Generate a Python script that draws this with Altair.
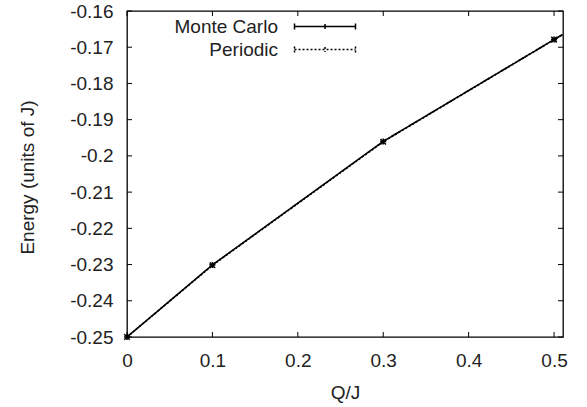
import altair as alt
import pandas as pd

# ---- data ----
series_names = ["Monte Carlo", "Periodic"]
q_mc = [0.0, 0.1, 0.3, 0.5, 0.51]
e_mc = [-0.2500, -0.2301, -0.1960, -0.1679, -0.1665]
q_per = [0.0, 0.1, 0.3, 0.5, 0.51]
e_per = [-0.2500, -0.2302, -0.1961, -0.1679, -0.1665]
x_ticks = [0.0, 0.1, 0.2, 0.3, 0.4, 0.5]
y_ticks = [-0.25, -0.24, -0.23, -0.22, -0.21, -0.20, -0.19, -0.18, -0.17, -0.16]

df = pd.concat([
    pd.DataFrame({"Q": q_mc, "E": e_mc, "series": series_names[0]}),
    pd.DataFrame({"Q": q_per, "E": e_per, "series": series_names[1]}),
], ignore_index=True)
xt = pd.DataFrame({"Q": x_ticks})
yt = pd.DataFrame({"E": y_ticks})

W, H = 436, 326
FONT = "Liberation Sans"
FS = 19
TXT = "#222222"
HYPHEN_EXPR = "replace(datum.label, '\u2212', '-')"

xs = alt.Scale(domain=[0, 0.5105], nice=False, zero=False)
ys = alt.Scale(domain=[-0.25, -0.16], nice=False, zero=False)

x_axis = alt.Axis(values=x_ticks, format=".2~f", title="Q/J", ticks=False, domain=False,
                  grid=False, labelPadding=14, labelFontSize=FS, labelColor=TXT,
                  labelFlush=False, titleFontSize=FS, titleFontWeight="normal",
                  titleColor=TXT, titleY=61, titleBaseline="alphabetic",
                  labelExpr=HYPHEN_EXPR)
y_axis = alt.Axis(values=y_ticks, format=".2~f", title="Energy (units of J)", ticks=False,
                  domain=False, grid=False, labelPadding=14, labelFontSize=FS,
                  labelColor=TXT, titleFontSize=FS, titleFontWeight="normal",
                  titleColor=TXT, titleX=-94, titleY=H / 2 + 3, titleBaseline="alphabetic",
                  labelExpr=HYPHEN_EXPR)

X = alt.X("Q:Q", scale=xs, axis=x_axis, title="Q/J")
Y = alt.Y("E:Q", scale=ys, axis=y_axis, title="Energy (units of J)")

# legend sample (pixel units, drawn to the right of the label like gnuplot's key)
legend_path = "M26,0H87M26,-3V3M87,-3V3M56.5,-2.5V2.5"

lines = alt.Chart(df).mark_line(clip=True, strokeWidth=1.6, color="black").encode(
    x=X, y=Y,
    strokeDash=alt.StrokeDash(
        "series:N",
        scale=alt.Scale(domain=series_names, range=[[1, 0], [2, 2]]),
        legend=alt.Legend(title=None, orient="none", legendX=132, legendY=6, padding=0,
                          symbolType=legend_path, symbolSize=4, symbolStrokeWidth=1.5,
                          symbolStrokeColor="black", labelAlign="right", labelOffset=0,
                          labelFont=FONT, labelFontSize=FS, labelColor=TXT, rowPadding=3),
    ),
    order=alt.Order("Q:Q"),
)

mc_pts = alt.Chart(df).transform_filter(
    (alt.datum.series == series_names[0]) & (alt.datum.Q <= 0.5)
).mark_point(shape="M-1,0H1M0,-1V1", size=36, strokeWidth=1.6, color="black",
             filled=False, opacity=1).encode(x=X, y=Y)

per_pts = alt.Chart(df).transform_filter(
    (alt.datum.series == series_names[1]) & (alt.datum.Q <= 0.5)
).mark_point(shape="M-1,-1L1,1M-1,1L1,-1", size=30, strokeWidth=1.5, color="black",
             filled=False, opacity=1).encode(x=X, y=Y)

tick_style = dict(color="black", strokeWidth=1)
xb = alt.Chart(xt).mark_rule(**tick_style).encode(x=X, y=alt.value(H), y2=alt.value(H - 5))
xtop = alt.Chart(xt).mark_rule(**tick_style).encode(x=X, y=alt.value(0), y2=alt.value(5))
yl = alt.Chart(yt).mark_rule(**tick_style).encode(y=Y, x=alt.value(0), x2=alt.value(5))
yr = alt.Chart(yt).mark_rule(**tick_style).encode(y=Y, x=alt.value(W), x2=alt.value(W - 5))

chart = alt.layer(lines, xb, xtop, yl, yr, per_pts, mc_pts).properties(
    width=W, height=H,
    padding={"left": 127, "top": 11, "right": 24, "bottom": 70},
    autosize=alt.AutoSizeParams(type="none"),
    background="white",
).configure(font=FONT).configure_view(stroke="black", strokeWidth=1.3)

chart.save("out.html", embed_options={"renderer": "svg", "actions": False})
